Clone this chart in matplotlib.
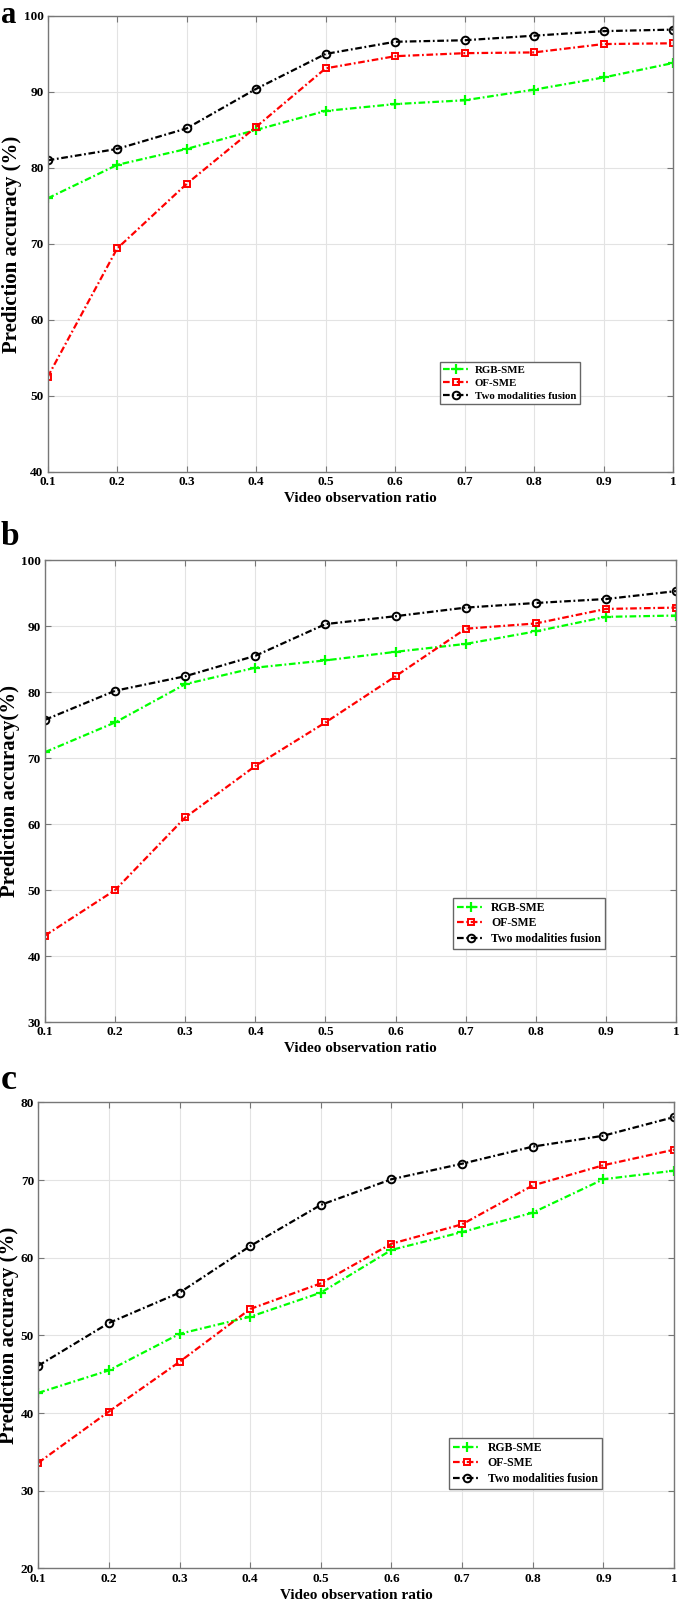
import matplotlib
matplotlib.use("Agg")
import matplotlib.pyplot as plt

plt.rcParams['font.family'] = ['Liberation Serif', 'DejaVu Serif']
plt.rcParams['font.weight'] = 'bold'

ratio = [0.1, 0.2, 0.3, 0.4, 0.5, 0.6, 0.7, 0.8, 0.9, 1.0]
xtick_labels = ['0.1', '0.2', '0.3', '0.4', '0.5', '0.6', '0.7', '0.8', '0.9', '1']

# panel a
rgb_a = [76.0, 80.4, 82.5, 85.0, 87.5, 88.4, 88.9, 90.3, 91.9, 93.8]
of_a = [52.5, 69.4, 77.9, 85.4, 93.1, 94.7, 95.1, 95.2, 96.3, 96.4]
fus_a = [81.0, 82.5, 85.2, 90.4, 95.0, 96.6, 96.8, 97.4, 98.0, 98.2]

# panel b
rgb_b = [70.9, 75.4, 81.2, 83.7, 84.8, 86.1, 87.3, 89.2, 91.4, 91.6]
of_b = [43.1, 50.0, 61.0, 68.8, 75.4, 82.4, 89.6, 90.4, 92.6, 92.8]
fus_b = [75.8, 80.2, 82.4, 85.5, 90.3, 91.5, 92.8, 93.5, 94.1, 95.3]

# panel c
rgb_c = [42.6, 45.5, 50.2, 52.4, 55.5, 61.0, 63.3, 65.8, 70.1, 71.2]
of_c = [33.6, 40.2, 46.6, 53.4, 56.7, 61.8, 64.3, 69.3, 71.9, 73.9]
fus_c = [46.1, 51.6, 55.5, 61.5, 66.8, 70.1, 72.1, 74.3, 75.7, 78.1]

names = ['RGB-SME', 'OF-SME', 'Two modalities fusion']

# traço-ponto mais curto, como no matlab
estilo = (0, (3.0, 1.2, 0.8, 1.2))

fig = plt.figure(figsize=(6.85, 16.09), dpi=100)

panels = [
    # letra, rect, dados, ylim, ylabel, ancora da legenda, pos da letra, tamanho, fonte legenda
    ('a', [0.0696, 0.7067, 0.9129, 0.2834], (rgb_a, of_a, fus_a), (40, 100),
     'Prediction accuracy (%)', (0.618, 0.136), (0.001, 0.9995), 22, 7.8),
    ('b', [0.0657, 0.3648, 0.9212, 0.2871], (rgb_b, of_b, fus_b), (30, 100),
     'Prediction accuracy(%)', (0.637, 0.145), (0.001, 0.6760), 24, 8.5),
    ('c', [0.0559, 0.0252, 0.9281, 0.2897], (rgb_c, of_c, fus_c), (20, 80),
     'Prediction accuracy (%)', (0.637, 0.158), (0.001, 0.3390), 26, 8.5),
]

for letra, rect, dados, ylim, ylab, anc, lpos, lsize, legsize in panels:
    ax = fig.add_axes(rect)
    rgb, of, fus = dados
    ax.plot(ratio, rgb, color='#00ff00', linestyle=estilo, linewidth=1.6,
            marker='+', markersize=7, markeredgewidth=1.6, label=names[0])
    ax.plot(ratio, of, color='#ff0000', linestyle=estilo, linewidth=1.6,
            marker='s', markersize=5, markerfacecolor='none', markeredgewidth=1.4,
            label=names[1])
    ax.plot(ratio, fus, color='black', linestyle=estilo, linewidth=1.6,
            marker='o', markersize=5.5, markerfacecolor='none', markeredgewidth=1.4,
            label=names[2])

    ax.set_xlim(0.1, 1.0)
    ax.set_ylim(*ylim)
    ax.set_xticks(ratio)
    ax.set_xticklabels(xtick_labels)
    ax.set_yticks(range(ylim[0], ylim[1] + 1, 10))
    ax.grid(True, color='#e3e3e3', linewidth=0.8)
    ax.set_axisbelow(True)
    ax.tick_params(direction='in', top=True, right=True, length=4,
                   color='#777777', labelsize=9.5, pad=3)
    for lab in ax.get_xticklabels() + ax.get_yticklabels():
        lab.set_fontweight('bold')
    for sp in ax.spines.values():
        sp.set_color('#777777')
        sp.set_linewidth(1.0)

    ax.set_xlabel('Video observation ratio', fontsize=11, fontweight='bold', labelpad=3)
    ax.set_ylabel(ylab, fontsize=15, fontweight='bold', labelpad=1)

    leg = ax.legend(loc='lower left', bbox_to_anchor=anc, fontsize=legsize,
                    fancybox=False, edgecolor='#666666', framealpha=1,
                    handlelength=2.3, borderpad=0.35, labelspacing=0.3,
                    handletextpad=0.6)
    for t in leg.get_texts():
        t.set_fontweight('bold')

    fig.text(lpos[0], lpos[1], letra, fontsize=lsize, fontweight='bold',
             ha='left', va='top')

fig.savefig('out.png', dpi=100)
